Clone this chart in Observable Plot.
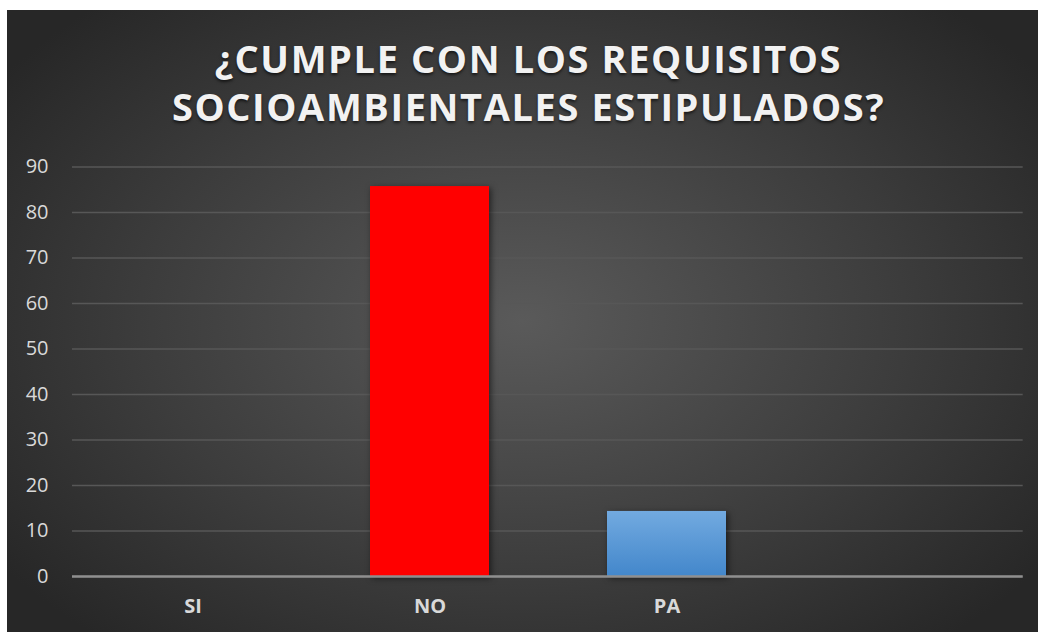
<!DOCTYPE html>
<html><head><meta charset="utf-8">
<script src="https://cdn.jsdelivr.net/npm/d3@7"></script>
<script src="https://cdn.jsdelivr.net/npm/@observablehq/plot@0.6"></script>
<style>
html,body{margin:0;padding:0;background:#fff;}
#chart{position:absolute;left:7px;top:10px;width:1031px;height:622px;overflow:hidden;
background:radial-gradient(ellipse 62% 68% at 50% 50%, #5a5a5a 0%, #3c3c3c 60%, #272727 100%);
font-family:"Open Sans",sans-serif;}
#title{position:absolute;left:6px;top:24px;width:1031px;text-align:center;color:#f2f2f2;font-weight:700;font-size:38px;line-height:48px;letter-spacing:1.6px;text-shadow:0 2px 3px rgba(0,0,0,.6);}
#plot{position:absolute;left:0;top:130px;}
g[aria-label="bar"] rect{filter:drop-shadow(2px 2px 3px rgba(0,0,0,.55));}
</style>
</head><body>
<div id="chart">
  <div id="title">¿CUMPLE CON LOS REQUISITOS<br>SOCIOAMBIENTALES ESTIPULADOS?</div>
  <div id="plot"></div>
</div>
<script>
const categories = ["SI", "NO", "PA", " "];
const values = [0, 85.7, 14.3];
const barColors = ["#ff0000", "#ff0000", "url(#paGrad)"];
const yTicks = [0, 10, 20, 30, 40, 50, 60, 70, 80, 90];

const data = values.map((v, i) => ({cat: categories[i], value: v, fill: barColors[i]}));

const svg = Plot.plot({
  width: 1031, height: 492,
  marginTop: 26.5, marginBottom: 56, marginLeft: 65, marginRight: 15.3,
  style: {background: "transparent", fontFamily: "'Open Sans', sans-serif", color: "#d9d9d9", overflow: "visible"},
  x: {domain: categories, paddingInner: 0.5, paddingOuter: 0.25, label: null, axis: null},
  y: {domain: [0, 90], label: null, axis: null},
  color: {type: "identity"},
  marks: [
    Plot.gridY(yTicks, {stroke: "#575757", strokeOpacity: 1, strokeWidth: 1.5}),
    Plot.axisY(yTicks, {tickSize: 0, tickPadding: 24, fontSize: 20, fill: "#d9d9d9", label: null}),
    Plot.axisX({tickSize: 0, tickPadding: 22, fontSize: 20, fontWeight: "bold", fill: "#d9d9d9", label: null}),
    Plot.barY(data, {x: "cat", y: "value", fill: "fill"}),
    Plot.ruleY([0], {stroke: "#8f8f8f", strokeWidth: 2.5})
  ]
});

const defs = d3.select(svg).insert("defs", ":first-child");
const g = defs.append("linearGradient").attr("id", "paGrad")
  .attr("x1", 0).attr("y1", 0).attr("x2", 0).attr("y2", 1);
g.append("stop").attr("offset", "0%").attr("stop-color", "#72aae0");
g.append("stop").attr("offset", "100%").attr("stop-color", "#4387cb");

document.getElementById("plot").appendChild(svg);
</script>
</body></html>
